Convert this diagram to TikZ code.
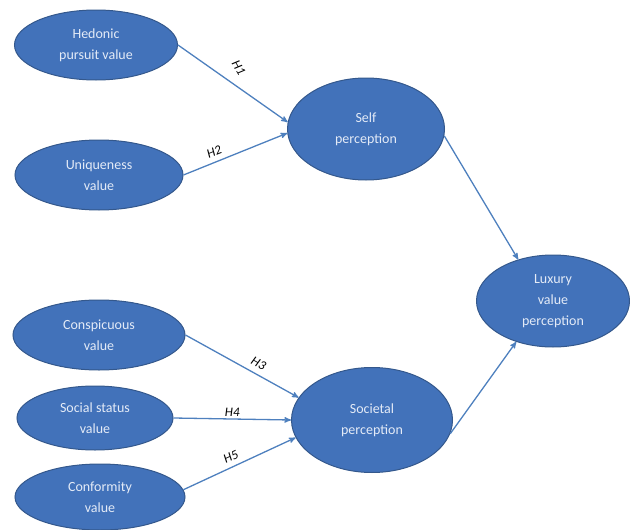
\documentclass[tikz,border=0pt]{standalone}
\usepackage{fontspec}
\setmainfont{Carlito}
\usepackage{tikz}
\usetikzlibrary{positioning, shapes.geometric}
\usetikzlibrary{arrows}

\begin{document}
\begin{tikzpicture}[x=1pt, y=-1pt, align=center, >=stealth', line width=1.3pt,
        construct/.style={ellipse, draw=ellipseborder, fill=ellipsefill, text=ellipsetext, line width=1pt, inner sep=0pt,
            font=\fontsize{14}{21}\selectfont},
        path/.style={->, draw=arrowblue},
        hyp/.style={font=\itshape\fontsize{13}{15}\selectfont, text=black, inner sep=1pt}]
        % Define colors
        \definecolor{ellipsefill}{RGB}{66,114,186}
        \definecolor{ellipseborder}{RGB}{52,88,140}
        \definecolor{ellipsetext}{RGB}{228,235,247}
        \definecolor{arrowblue}{RGB}{78,128,190}

        \useasboundingbox (0,0) rectangle (630,530);

        % Nodes
        \node[construct, minimum width=163pt, minimum height=70pt] (hedonic) at (96,45) {Hedonic\\pursuit value};
        \node[construct, minimum width=168pt, minimum height=70pt, below of=hedonic, node distance=130pt, xshift=3pt] (unique) {Uniqueness\\value};
        \node[construct, minimum width=172pt, minimum height=70pt, below of=unique, node distance=160pt] (conspic) {Conspicuous\\value};
        \node[construct, minimum width=156pt, minimum height=64pt, below of=conspic, node distance=83pt, xshift=-4pt] (status) {Social status\\value};
        \node[construct, minimum width=170pt, minimum height=66pt, below of=status, node distance=79pt, xshift=5pt] (conform) {Conformity\\value};

        \node[construct, minimum width=157pt, minimum height=102pt] (self) at (366,129) {Self\\perception};
        \node[construct, minimum width=161pt, minimum height=105pt] (societal) at (372,420) {Societal\\perception};
        \node[construct, minimum width=153pt, minimum height=92pt] (luxury) at (553,301) {Luxury\\value\\perception};

        % Edges
        \draw[path] (hedonic.east) -- node[hyp, sloped, pos=0.47, yshift=16pt, rotate=-25] {H1} (self.175);
        \draw[path] (unique.east) -- node[hyp, above=4pt, sloped, pos=0.33] {H2} (self.183);
        \draw[path] (conspic.east) -- node[hyp, above=5pt, sloped, pos=0.6] {H3} (societal.163);
        \draw[path] (status.east) -- node[hyp, above=1pt, pos=0.5] {H4} (societal.west);
        \draw[path] (conform.5) -- node[hyp, above=4pt, sloped, pos=0.46] {H5} (societal.193);
        \draw[path] (self.-5) -- (luxury.130);
        \draw[path] (societal.-10) -- (luxury.228);
    \end{tikzpicture}
\end{document}
